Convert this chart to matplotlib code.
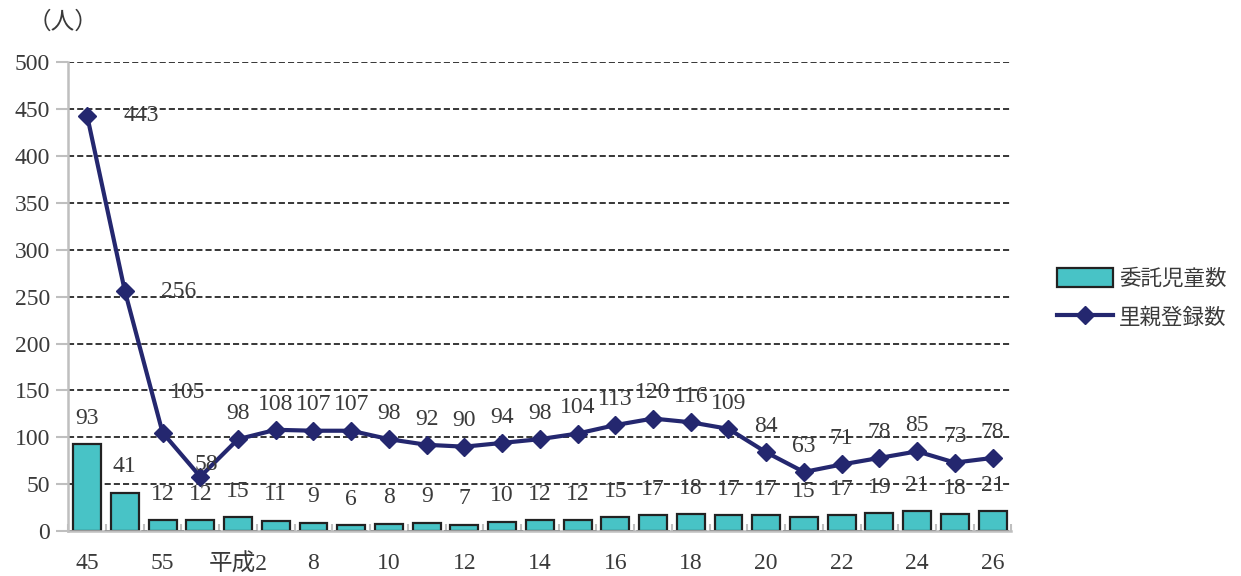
import matplotlib
matplotlib.use("Agg")
import matplotlib.pyplot as plt
import numpy as np
from matplotlib.lines import Line2D
from matplotlib.patches import Patch

# ---------------------------------------------------------------------------
# Data (昭和45 ... 平成26)
# ---------------------------------------------------------------------------
years = ["45", "50", "55", "60", "平成2", "7", "8", "9", "10", "11", "12", "13",
         "14", "15", "16", "17", "18", "19", "20", "21", "22", "23", "24", "25", "26"]
children = [93, 41, 12, 12, 15, 11, 9, 6, 8, 9, 7, 10, 12, 12, 15, 17, 18, 17,
            17, 15, 17, 19, 21, 18, 21]
registered = [443, 256, 105, 58, 98, 108, 107, 107, 98, 92, 90, 94, 98, 104,
              113, 120, 116, 109, 84, 63, 71, 78, 85, 73, 78]
y_ticks = [0, 50, 100, 150, 200, 250, 300, 350, 400, 450, 500]

BAR = "#48C3C6"
BAR_EDGE = "#222222"
LINE = "#24276F"
AXIS_GRAY = "#BFBFBF"
TEXT = "#3A3A3A"
SERIF = ["Liberation Serif", "DejaVu Serif", "Noto Sans CJK JP"]
CJK = ["Noto Sans CJK JP", "DejaVu Sans"]
FS = 17

fig = plt.figure(figsize=(12.41, 5.76), dpi=100)
ax = fig.add_axes([0.055, 0.078, 0.760, 0.814])

x = np.arange(len(years))
ax.bar(x, children, width=0.74, color=BAR, edgecolor=BAR_EDGE, linewidth=1.6, zorder=2)
ax.plot(x, registered, color=LINE, linewidth=3, marker="D", markersize=9, zorder=3)

# bar labels
for xi, v in zip(x, children):
    ax.annotate(str(v), (xi, v), xytext=(0, 11), textcoords="offset points",
                ha="center", va="bottom", fontsize=FS, color=TEXT, family=SERIF)

# line labels: mostly above, first two to the right
for i, (xi, v) in enumerate(zip(x, registered)):
    if i < 2:
        off, ha, va = (26, 0), "left", "center"
    elif i == 2:
        off, ha, va = (18, 21), "center", "bottom"
    elif i == 3:
        off, ha, va = (4, 1), "center", "bottom"
    else:
        off, ha, va = (0, 11), "center", "bottom"
    ax.annotate(str(v), (xi, v), xytext=off, textcoords="offset points",
                ha=ha, va=va, fontsize=FS, color=TEXT, family=SERIF)

ax.set_xlim(-0.5, len(years) - 0.5)
ax.set_ylim(0, 500)
ax.set_yticks(y_ticks)
ax.set_yticklabels([str(t) for t in y_ticks], family=SERIF, fontsize=FS, color=TEXT)
ax.yaxis.grid(True, linestyle=(0, (4, 2)), color="black", linewidth=1.1)
ax.set_axisbelow(True)

ax.set_xticks(x[::2])
ax.set_xticklabels(years[::2], fontsize=FS, color=TEXT,
                   family=["Liberation Serif", "Noto Sans CJK JP"])
ax.set_xticks(np.arange(len(years) + 1) - 0.5, minor=True)
ax.tick_params(axis="x", which="major", length=0, pad=16)
ax.tick_params(axis="x", which="minor", direction="in", length=5,
               color=AXIS_GRAY, width=1.5)
ax.tick_params(axis="y", length=9, color=AXIS_GRAY, width=1.5, pad=4)

for s in ("top", "right"):
    ax.spines[s].set_visible(False)
for s in ("left", "bottom"):
    ax.spines[s].set_color(AXIS_GRAY)
    ax.spines[s].set_linewidth(1.8)
    ax.spines[s].set_zorder(4)

fig.text(0.022, 0.962, "（人）", fontsize=17, color=TEXT, family=CJK, va="center")

handles = [Patch(facecolor=BAR, edgecolor=BAR_EDGE, linewidth=1.6),
           Line2D([0], [0], color=LINE, linewidth=3, marker="D", markersize=9)]
fig.legend(handles, ["委託児童数", "里親登録数"], loc="center left",
           bbox_to_anchor=(0.836, 0.482), frameon=False,
           prop={"family": CJK, "size": 15.5}, labelcolor=TEXT,
           handlelength=2.6, handleheight=1.0, labelspacing=0.8, handletextpad=0.3)

fig.savefig("out.png", dpi=100)
